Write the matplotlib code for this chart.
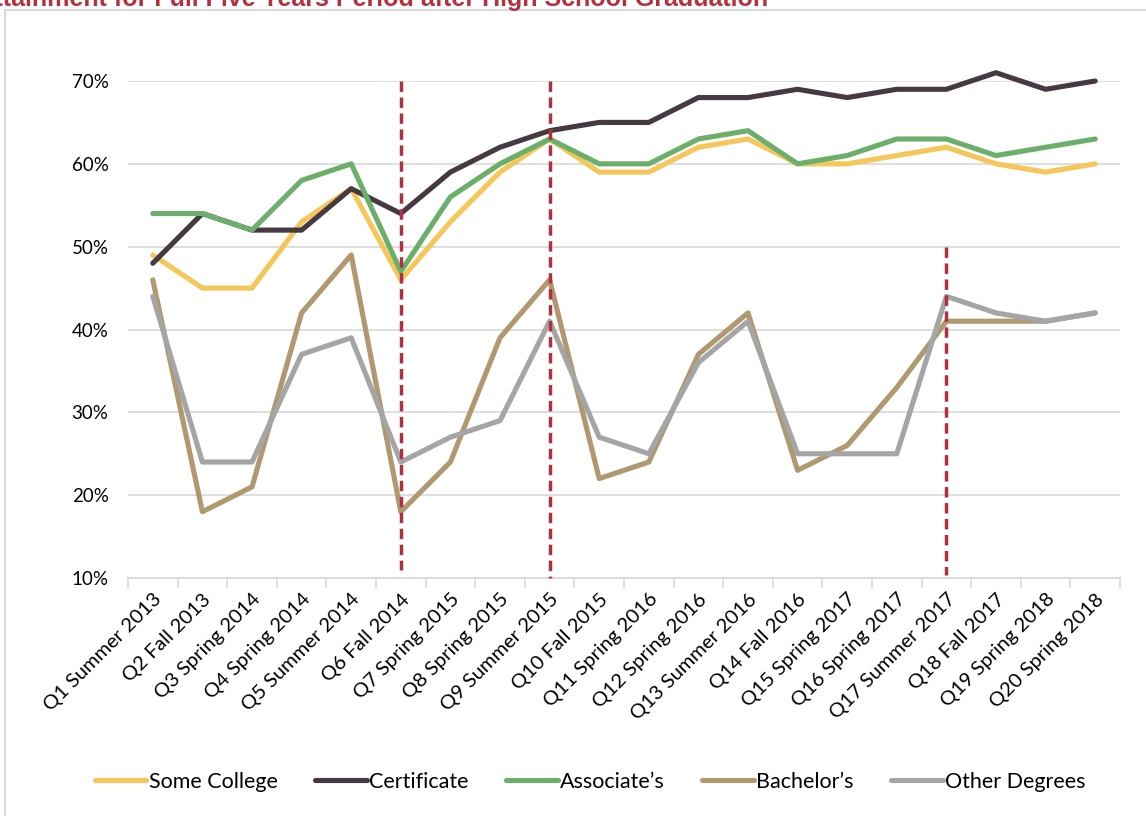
import numpy as np
import matplotlib
matplotlib.use("Agg")
import matplotlib.pyplot as plt
from matplotlib.patches import Rectangle
from matplotlib.ticker import FixedLocator, PercentFormatter

plt.rcParams['font.family'] = ['Lato', 'DejaVu Sans']

quarters = [
    "Q1 Summer 2013", "Q2 Fall 2013", "Q3 Spring 2014", "Q4 Spring 2014",
    "Q5 Summer 2014", "Q6 Fall 2014", "Q7 Spring 2015", "Q8 Spring 2015",
    "Q9 Summer 2015", "Q10 Fall 2015", "Q11 Spring 2016", "Q12 Spring 2016",
    "Q13 Summer 2016", "Q14 Fall 2016", "Q15 Spring 2017", "Q16 Spring 2017",
    "Q17 Summer 2017", "Q18 Fall 2017", "Q19 Spring 2018", "Q20 Spring 2018",
]

some_college = [49, 45, 45, 53, 57, 46, 53, 59, 63, 59, 59, 62, 63, 60, 60, 61, 62, 60, 59, 60]
certificate  = [48, 54, 52, 52, 57, 54, 59, 62, 64, 65, 65, 68, 68, 69, 68, 69, 69, 71, 69, 70]
associates   = [54, 54, 52, 58, 60, 47, 56, 60, 63, 60, 60, 63, 64, 60, 61, 63, 63, 61, 62, 63]
bachelors    = [46, 18, 21, 42, 49, 18, 24, 39, 46, 22, 24, 37, 42, 23, 26, 33, 41, 41, 41, 42]
other        = [44, 24, 24, 37, 39, 24, 27, 29, 41, 27, 25, 36, 41, 25, 25, 25, 44, 42, 41, 42]

series_names = ["Some College", "Certificate", "Associate\u2019s", "Bachelor\u2019s", "Other Degrees"]
series_vals = [some_college, certificate, associates, bachelors, other]
series_colors = ["#F5C65A", "#463A42", "#6BAF6B", "#B09870", "#A5A5A5"]

# dashed markers: (quarter index, top %, bottom %)
markers = [(5, 70, 11), (8, 70, 10), (16, 50, 10.4)]

fig = plt.figure(figsize=(11.46, 8.16), dpi=100)
ax = fig.add_axes([128 / 1146, 1 - 578 / 816, (1120 - 128) / 1146, (578 - 81) / 816])

# outer frame
fig.patches.append(Rectangle((5 / 1146, -0.1), 1.2, 1 - 10 / 816 + 0.1,
                             transform=fig.transFigure, fill=False,
                             edgecolor="#D9D9D9", linewidth=1.5))

# title is cut off by the top edge, as in the source image
fig.text(768 / 1146, 1 - 6 / 816, "Educational Attainment for Full Five Years Period after High School Graduation",
         ha="right", va="baseline", color="#B5303F", fontsize=18, fontweight="bold",
         family=["Liberation Sans", "DejaVu Sans"])

x = np.arange(len(quarters))
for name, vals, col in zip(series_names, series_vals, series_colors):
    ax.plot(x, np.array(vals) / 100, color=col, linewidth=3.7, label=name,
            solid_capstyle="round", clip_on=False, zorder=3)

for qi, top, bot in markers:
    ax.plot([qi, qi], [top / 100, bot / 100], color="#B0303F", linewidth=2.5,
            linestyle=(0, (3, 1.6)), zorder=4, clip_on=False)

ax.set_xlim(-0.5, len(quarters) - 0.5)
ax.set_ylim(0.10, 0.70)
ax.yaxis.set_major_locator(FixedLocator(np.arange(0.1, 0.71, 0.1)))
ax.yaxis.set_major_formatter(PercentFormatter(1.0, decimals=0))
ax.grid(axis="y", color="#D9D9D9", linewidth=1.2)
ax.set_axisbelow(True)

for s in ["top", "right", "left"]:
    ax.spines[s].set_visible(False)
ax.spines["bottom"].set_color("#D9D9D9")
ax.spines["bottom"].set_linewidth(1.2)

ax.set_xticks(x)
ax.set_xticklabels(quarters, rotation=45, ha="right", rotation_mode="anchor", fontsize=14.5)
ax.tick_params(axis="x", which="major", length=0, pad=9)
ax.set_xticks(np.arange(-0.5, len(quarters), 1), minor=True)
ax.tick_params(axis="x", which="minor", length=7, color="#D9D9D9", width=1.2)
ax.tick_params(axis="y", length=0, labelsize=13.5, pad=14)

fig.legend(loc="center", bbox_to_anchor=(0.515, 1 - 782 / 816), ncol=5, frameon=False,
           fontsize=15.5, handlelength=2.4, handletextpad=0.1, columnspacing=1.75)

fig.savefig("out.png", dpi=100)
